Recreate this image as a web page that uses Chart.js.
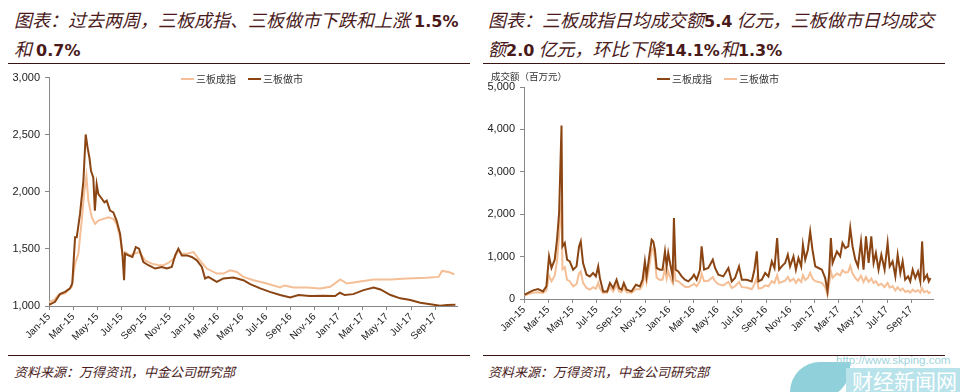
<!DOCTYPE html>
<html>
<head>
<meta charset="utf-8">
<script src="https://cdn.jsdelivr.net/npm/chart.js@4.4.0/dist/chart.umd.min.js"></script>
<style>
body { margin:0; width:960px; height:392px; background:#fff; position:relative; overflow:hidden; font-family:"Noto Sans CJK SC", sans-serif; }
.title { position:absolute; top:6px; font-size:18px; line-height:27px; color:#4a1a1a; font-style:italic; white-space:nowrap; }
.title b { font-family:"DejaVu Sans", sans-serif; font-style:normal; font-weight:bold; font-size:16px; }
.rule { position:absolute; height:0; border-top:1.5px solid #3a1414; width:462px; }
.source { position:absolute; top:362px; font-size:13px; color:#4a1a1a; font-style:italic; }
.chart { position:absolute; top:66px; }
.legend { position:absolute; top:71px; font-size:10px; color:#333; white-space:nowrap; }
.legend .line { display:inline-block; width:13px; height:2px; vertical-align:middle; margin:0 2px 2px 0; }
.legend .item { margin-right:12px; }
.ytitle { position:absolute; left:491px; top:69px; font-size:9.5px; color:#333; }
.wm-url { position:absolute; left:836px; top:354px; font-family:"Liberation Sans", sans-serif; font-size:11.5px; color:#9fd3dc; }
.wm-band { position:absolute; left:846px; top:368px; width:114px; height:24px; background:#b9e3ea; color:#fff; font-size:21px; line-height:24px; padding-left:6px; box-sizing:border-box; }
.wm-leaf { position:absolute; left:790px; top:362px; width:60px; height:36px; border-radius:30px 0 30px 0; background:#8fd0da; }
</style>
</head>
<body>
<div class="title" style="left:14px;">图表：过去两周，三板成指、三板做市下跌和上涨 <b>1.5%</b><br>和 <b>0.7%</b></div>
<div class="title" style="left:488px;">图表：三板成指日均成交额<b>5.4</b> 亿元，三板做市日均成交<br>额<b>2.0</b> 亿元，环比下降<b>14.1%</b>和<b>1.3%</b></div>
<div class="rule" style="left:8px; top:63px;"></div>
<div class="rule" style="left:483px; top:63px;"></div>

<canvas id="leftChart" class="chart" style="left:0px;" width="470" height="284"></canvas>
<canvas id="rightChart" class="chart" style="left:480px;" width="470" height="284"></canvas>

<div class="legend" style="left:181px;">
  <span class="item"><span class="line" style="background:#f4bf96;"></span>三板成指</span><span class="item"><span class="line" style="background:#8b4513;"></span>三板做市</span>
</div>
<div class="legend" style="left:657px;">
  <span class="item"><span class="line" style="background:#8b4513;"></span>三板成指</span><span class="item"><span class="line" style="background:#f4bf96;"></span>三板做市</span>
</div>
<div class="ytitle">成交额（百万元）</div>

<div class="rule" style="left:8px; top:355px;"></div>
<div class="rule" style="left:483px; top:355px;"></div>
<div class="source" style="left:14px;">资料来源：万得资讯，中金公司研究部</div>
<div class="source" style="left:488px;">资料来源：万得资讯，中金公司研究部</div>

<div class="wm-leaf"></div>
<div class="wm-band">财经新闻网</div>
<div class="wm-url">http://www.skping.com</div>

<script>
// x 轴: 2015年1月起的月份数
const xTickLabels = ['Jan-15', 'Mar-15', 'May-15', 'Jul-15', 'Sep-15', 'Nov-15', 'Jan-16', 'Mar-16', 'May-16',
    'Jul-16', 'Sep-16', 'Nov-16', 'Jan-17', 'Mar-17', 'May-17', 'Jul-17', 'Sep-17'];

// 左图: 三板成指
const indexMonths = [0, 0.4, 0.77, 1.33, 1.88, 2.16, 2.43, 2.71, 2.93, 3.1,
    3.26, 3.54, 3.82, 4.09, 4.5, 4.92, 5.33, 5.6, 5.89, 6.08,
    6.2, 6.3, 6.7, 7.1, 7.5, 7.96, 8.5, 9.0, 9.5, 10.0,
    10.4, 10.72, 11.0, 11.5, 11.97, 12.5, 13.07, 13.9, 14.45, 15.0,
    15.56, 16.1, 16.94, 18.05, 19.15, 19.5, 20.26, 21.37, 22.47, 23.3,
    24.13, 24.68, 25.5, 26.9, 28.3, 29.65, 31.3, 32.28, 32.56, 33.1, 33.58];
const indexValues = [1037, 1050, 1096, 1110, 1168, 1371, 1458, 1748, 2009, 2139,
    1922, 1777, 1719, 1748, 1763, 1777, 1763, 1719, 1603, 1458,
    1400, 1472, 1443, 1460, 1472, 1400, 1371, 1360, 1357, 1385,
    1420, 1487, 1458, 1460, 1472, 1400, 1328, 1284, 1284, 1313,
    1298, 1255, 1226, 1197, 1162, 1180, 1162, 1162, 1154, 1168,
    1232, 1197, 1211, 1232, 1232, 1241, 1247, 1255, 1307, 1298, 1278];

// 左图: 三板做市
const makerMonths = [0, 0.5, 0.9, 1.33, 1.74, 1.93, 2.16, 2.3, 2.57, 2.85,
    3.04, 3.2, 3.35, 3.48, 3.67, 3.8, 3.95, 4.09, 4.3, 4.59,
    4.78, 5.06, 5.33, 5.6, 5.89, 6.08, 6.22, 6.3, 6.58, 6.91,
    7.19, 7.46, 7.82, 8.23, 8.79, 9.34, 9.76, 10.17, 10.45, 10.72,
    11.0, 11.42, 11.83, 12.25, 12.66, 12.93, 13.2, 13.9, 14.45, 15.28,
    16.1, 16.67, 17.5, 18.3, 19.15, 19.98, 20.67, 21.6, 22.7, 23.7,
    24.1, 24.5, 25.2, 26.06, 26.9, 27.45, 28.3, 29.1, 29.93, 30.76,
    31.6, 32.4, 32.98, 33.67];
const makerValues = [1009, 1037, 1104, 1124, 1154, 1197, 1603, 1603, 1806, 2096,
    2502, 2385, 2298, 2183, 2124, 1835, 2067, 1980, 1950, 1907,
    1922, 1835, 1820, 1748, 1632, 1458, 1226, 1458, 1443, 1429,
    1516, 1502, 1385, 1357, 1328, 1342, 1328, 1342, 1443, 1502,
    1443, 1443, 1429, 1400, 1342, 1241, 1255, 1211, 1241, 1250,
    1226, 1191, 1154, 1124, 1096, 1075, 1096, 1087, 1090, 1087,
    1116, 1096, 1104, 1139, 1162, 1145, 1096, 1067, 1052, 1029,
    1015, 1003, 1009, 1012];

// 右图: 日均成交额（百万元）
const volumeMonths = [0.06, 0.3, 0.75, 1.16, 1.57, 1.85, 2.07, 2.27, 2.54, 2.73,
    2.9, 3.1, 3.18, 3.37, 3.56, 3.78, 4.06, 4.34, 4.55, 4.69,
    4.88, 5.17, 5.44, 5.71, 5.94, 6.13, 6.27, 6.54, 6.87, 7.1,
    7.37, 7.65, 7.86, 8.06, 8.25, 8.48, 8.89, 9.25, 9.58, 9.8,
    9.99, 10.13, 10.35, 10.55, 10.68, 10.82, 10.96, 11.23, 11.45, 11.65,
    11.79, 11.92, 12.12, 12.28, 12.39, 12.53, 12.75, 13.03, 13.3, 13.58,
    13.86, 14.05, 14.27, 14.54, 14.68, 14.88, 15.23, 15.6, 15.79, 16.06,
    16.47, 16.89, 17.17, 17.44, 17.77, 18.0, 18.4, 18.82, 19.04, 19.24,
    19.37, 19.65, 19.93, 20.2, 20.48, 20.7, 20.92, 21.08, 21.3, 21.58,
    21.8, 21.99, 22.27, 22.47, 22.68, 22.91, 23.05, 23.24, 23.46, 23.65,
    23.84, 24.07, 24.34, 24.62, 24.89, 25.08, 25.22, 25.36, 25.5, 25.86,
    26.13, 26.32, 26.55, 26.8, 26.96, 27.15, 27.38, 27.6, 27.85, 28.06,
    28.26, 28.48, 28.7, 28.89, 29.08, 29.3, 29.53, 29.8, 30.05, 30.22,
    30.46, 30.69, 30.88, 31.1, 31.29, 31.5, 31.74, 31.92, 32.12, 32.34,
    32.56, 32.75, 32.9, 33.06, 33.31, 33.45, 33.59];
const volumeIndex = [101, 141, 203, 236, 179, 297, 1005, 731, 927, 1398,
    2028, 4094, 1240, 1320, 927, 887, 691, 769, 1240, 1358,
    849, 573, 533, 613, 533, 769, 495, 179, 179, 377,
    259, 455, 259, 219, 377, 219, 179, 337, 297, 455,
    887, 533, 1005, 1398, 1358, 1162, 731, 691, 691, 1123,
    769, 1085, 769, 533, 1910, 691, 651, 533, 455, 415,
    495, 573, 455, 691, 1240, 691, 731, 927, 731, 573,
    533, 731, 415, 495, 769, 455, 455, 415, 691, 1123,
    415, 455, 613, 533, 887, 731, 1438, 691, 769, 849,
    1045, 769, 1005, 691, 967, 769, 1280, 927, 1162, 1594,
    1162, 769, 731, 691, 495, 179, 613, 1438, 849, 1123,
    1005, 1320, 1202, 1240, 1674, 1240, 927, 769, 1358, 691,
    1476, 849, 1476, 849, 1085, 691, 1045, 691, 1320, 769,
    887, 533, 1045, 613, 887, 455, 533, 415, 691, 495,
    651, 415, 1358, 455, 573, 415, 495];
const volumeMaker = [80, 110, 150, 160, 140, 200, 550, 420, 550, 900,
    1500, 2340, 700, 750, 450, 420, 300, 350, 600, 650,
    380, 260, 220, 280, 240, 380, 250, 140, 150, 280,
    180, 330, 180, 160, 270, 160, 150, 230, 230, 330,
    600, 400, 750, 1150, 1200, 950, 500, 450, 460, 700,
    480, 650, 480, 380, 800, 430, 420, 350, 290, 280,
    320, 360, 300, 420, 600, 420, 430, 520, 420, 350,
    320, 400, 260, 300, 400, 280, 270, 230, 350, 500,
    250, 260, 320, 300, 420, 380, 560, 380, 400, 430,
    520, 420, 480, 380, 470, 400, 560, 450, 500, 620,
    480, 420, 400, 380, 280, 100, 350, 650, 500, 600,
    560, 680, 620, 640, 780, 600, 500, 430, 550, 400,
    520, 400, 480, 380, 420, 320, 360, 280, 380, 270,
    300, 200, 280, 200, 250, 170, 190, 150, 220, 170,
    210, 150, 260, 160, 190, 140, 170];

const colorDark = '#8b4513';
const colorLight = '#f4bf96';

function toPoints(months, values) {
    return months.map((m, i) => ({ x: m, y: values[i] }));
}

function criarGrafico(elementoId, datasets, yMin, yMax, yStep, yWidth, padding, xHeight) {
    const tickFont = { family: 'Liberation Sans', size: 11 };
    return new Chart(document.getElementById(elementoId), {
        type: 'line',
        data: { datasets },
        options: {
            responsive: false,
            animation: false,
            layout: { padding },
            elements: { point: { radius: 0 }, line: { tension: 0 } },
            plugins: { legend: { display: false }, tooltip: { enabled: false } },
            scales: {
                x: {
                    type: 'linear',
                    min: 0,
                    max: 33.8,
                    border: { color: '#888', width: 1 },
                    grid: { drawOnChartArea: false, tickLength: 4, color: '#888' },
                    ticks: {
                        stepSize: 2,
                        includeBounds: false,
                        autoSkip: false,
                        minRotation: 45,
                        maxRotation: 45,
                        color: '#222',
                        font: { family: 'Liberation Sans', size: 10 },
                        padding: 1,
                        callback(valor) {
                            return valor % 2 === 0 ? xTickLabels[valor / 2] : '';
                        }
                    },
                    afterFit(axis) { axis.height = xHeight; }
                },
                y: {
                    min: yMin,
                    max: yMax,
                    border: { color: '#888', width: 1 },
                    grid: { drawOnChartArea: false, tickLength: 4, color: '#888' },
                    ticks: {
                        stepSize: yStep,
                        color: '#222',
                        font: tickFont,
                        padding: 5,
                        callback(valor) { return valor.toLocaleString('en-US'); }
                    },
                    afterFit(axis) { axis.width = yWidth; }
                }
            }
        }
    });
}

criarGrafico('leftChart', [
    { label: '三板做市', data: toPoints(makerMonths, makerValues), borderColor: colorDark, borderWidth: 2, order: 0 },
    { label: '三板成指', data: toPoints(indexMonths, indexValues), borderColor: colorLight, borderWidth: 2, order: 1 }
], 1000, 3000, 500, 49, { top: 10, right: 13, left: 0, bottom: 0 }, 44);

criarGrafico('rightChart', [
    { label: '三板成指', data: toPoints(volumeMonths, volumeIndex), borderColor: colorDark, borderWidth: 2, order: 0 },
    { label: '三板做市', data: toPoints(volumeMonths, volumeMaker), borderColor: colorLight, borderWidth: 2, order: 1 }
], 0, 5000, 1000, 44, { top: 21, right: 17, left: 0, bottom: 0 }, 51);
</script>
</body>
</html>
